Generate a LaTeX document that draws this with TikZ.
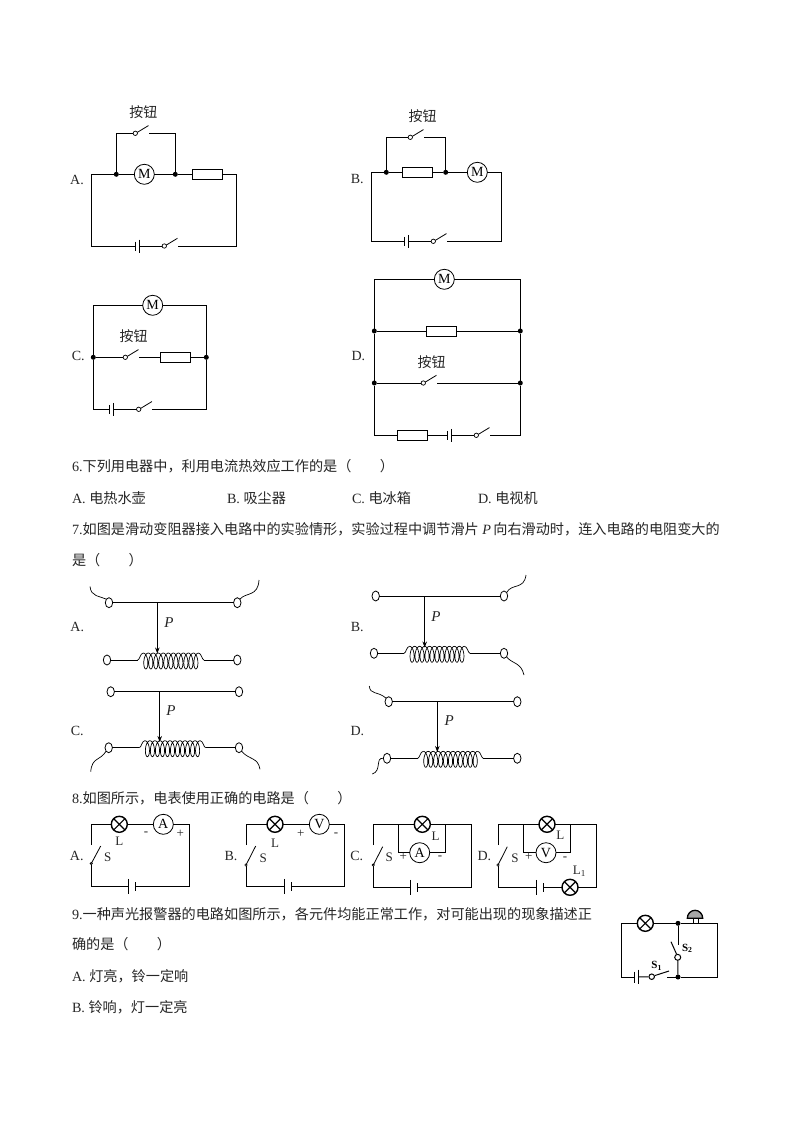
\documentclass[tikz,border=0pt]{standalone}
\usepackage{fontspec}
\setmainfont{Liberation Serif}
\newfontfamily\cjk{Noto Sans CJK SC}
\usetikzlibrary{shapes.geometric,arrows.meta}
\tikzset{
  wire/.style={line width=0.8pt,line join=miter},
  txt/.style={anchor=mid west,yshift=-4pt,inner sep=0pt,outer sep=0pt,font=\fontsize{14.15}{14.15}\selectfont,text=black!85},
  lbl/.style={anchor=center,inner sep=0pt,outer sep=0pt,font=\fontsize{14}{14}\selectfont,text=black!85},
  small/.style={anchor=center,inner sep=0pt,outer sep=0pt,font=\fontsize{13}{13}\selectfont,text=black!85},
  btn/.style={anchor=center,inner sep=0pt,outer sep=0pt,font=\fontsize{14}{14}\selectfont\cjk,text=black!85},
  meter/.style={circle,draw,line width=0.8pt,fill=white,minimum size=20pt,inner sep=0pt,outer sep=0pt,font=\fontsize{14}{14}\selectfont},
  lampnode/.style={circle,draw,line width=1.4pt,fill=white,minimum size=16pt,inner sep=0pt,outer sep=0pt},
  resist/.style={rectangle,draw,line width=0.8pt,fill=white,minimum width=30.4pt,minimum height=10pt,inner sep=0pt,outer sep=0pt},
  jdot/.style={circle,fill=black,minimum size=5pt,inner sep=0pt,outer sep=0pt},
  swc/.style={circle,draw,line width=0.7pt,fill=white,minimum size=4.4pt,inner sep=0pt,outer sep=0pt},
  vc/.style={circle,draw,line width=0.6pt,fill=white,minimum size=2.4pt,inner sep=0pt,outer sep=0pt},
  term/.style={ellipse,draw,line width=0.8pt,fill=white,minimum width=7.4pt,minimum height=10pt,inner sep=0pt,outer sep=0pt},
  lead/.style={line width=0.7pt},
  slide/.style={line width=0.8pt,-{Stealth[length=6pt,width=4.5pt]}}
}
% horizontal switch: name, x, y, resume x
\newcommand\hsw[4]{\node[swc] (#1) at (#2,#3) {};
  \draw[wire] (#1.25) -- ++(11.2,-6.8);
  \coordinate (#1o) at (#4,#3);}
% battery: name, short x, long x, y
\newcommand\batt[4]{\draw[wire] (#2,#4-4.5) -- (#2,#4+4.5);
  \draw[wire] (#3,#4-6.5) -- (#3,#4+6.5);
  \coordinate (#1a) at (#2,#4); \coordinate (#1b) at (#3,#4);}
% battery of problem 8: name, long x, short x, y
\newcommand\battb[4]{\draw[wire] (#2,#4-7.5) -- (#2,#4+7.5);
  \draw[line width=1.4pt] (#3,#4-4.2) -- (#3,#4+4.2);
  \coordinate (#1a) at (#2,#4); \coordinate (#1b) at (#3,#4);}
% lamp: name, x, y
\newcommand\lamp[3]{\node[lampnode] (#1) at (#2,#3) {};
  \draw[line width=1.2pt] (#1.45) -- (#1.225) (#1.135) -- (#1.315);}
% vertical switch of problem 8: name, x, top y, contact y, blade end x, blade end y
\newcommand\vsw[6]{\node[vc] (#1) at (#2,#4) {};
  \draw[wire] (#1.center) -- (#5,#6);
  \coordinate (#1t) at (#2,#3);}
% rheostat bar: name, left x, right x, y
\newcommand\rbar[4]{\node[term] (#1L) at (#2,#4) {}; \node[term] (#1R) at (#3,#4) {};}
% coil: name, left end x, right end x, y
\newcommand\coil[4]{\pgfmathsetmacro\pp{(#3-#2-11.2)/11}
  \draw[line width=0.7pt] (#2,#4) .. controls (#2+2,#4) and (#2+2.6,#4-7) .. (#2+5.6,#4-7);
  \draw[line width=0.7pt] plot[smooth,domain=0:3960,samples=221,variable=\t] ({#2+5.6+\t/360*\pp+3.2*sin(\t)},{#4+1-8*cos(\t)});
  \draw[line width=0.7pt] (#3-5.6,#4-7) .. controls (#3-2.6,#4-7) and (#3-2,#4) .. (#3,#4);
  \coordinate (#1cl) at (#2,#4); \coordinate (#1cr) at (#3,#4);}
\begin{document}
\begin{tikzpicture}[x=1pt,y=-1pt]
\useasboundingbox (0,0) rectangle (794,1123);
\fill[white] (0,0) rectangle (794,1123);

% ---------- Problem 5, A
\coordinate (aTL) at (91.3,174.3); \coordinate (aTR) at (236.7,174.3);
\coordinate (aBR) at (236.7,246); \coordinate (aBL) at (91.3,246);
\coordinate (aU1) at (116.3,133.3); \coordinate (aU2) at (175.3,133.3);
\node[lbl] (aLab) at (77,179.5) {A.};
\node[btn] (aBtn) at (143.3,112) {按钮};
\node[jdot] (aJ1) at (116.3,174.3) {}; \node[jdot] (aJ2) at (175.3,174.3) {};
\node[meter] (aM) at (144.3,174.3) {M};
\node[resist] (aR) at (207.5,174.3) {};
\hsw{aS1}{135.3}{133.3}{149.3}
\hsw{aS2}{164.3}{246}{178.3}
\batt{aB}{135}{139}{246}
\draw[wire] (aJ1) -- (aU1) -- (aS1);
\draw[wire] (aS1o) -- (aU2) -- (aJ2);
\draw[wire] (aJ1) -- (aM); \draw[wire] (aM) -- (aJ2); \draw[wire] (aJ2) -- (aR);
\draw[wire] (aR) -- (aTR) -- (aBR) -- (aS2o);
\draw[wire] (aS2) -- (aBb);
\draw[wire] (aBa) -- (aBL) -- (aTL) -- (aJ1);

% ---------- Problem 5, B
\coordinate (bTL) at (371.3,172.3); \coordinate (bTR) at (501.7,172.3);
\coordinate (bBR) at (501.7,241.3); \coordinate (bBL) at (371.3,241.3);
\coordinate (bU1) at (386.3,137.3); \coordinate (bU2) at (445.7,137.3);
\node[lbl] (bLab) at (357.3,179) {B.};
\node[btn] (bBtn) at (422.7,116) {按钮};
\node[jdot] (bJ1) at (386.3,172.3) {}; \node[jdot] (bJ2) at (445.7,172.3) {};
\node[meter] (bM) at (477.3,172.3) {M};
\node[resist] (bR) at (417.5,172.3) {};
\hsw{bS1}{410.3}{137.3}{424.3}
\hsw{bS2}{433.3}{241.3}{447.3}
\batt{bB}{404}{408.3}{241.3}
\draw[wire] (bJ1) -- (bU1) -- (bS1);
\draw[wire] (bS1o) -- (bU2) -- (bJ2);
\draw[wire] (bJ1) -- (bR); \draw[wire] (bR) -- (bJ2); \draw[wire] (bJ2) -- (bM);
\draw[wire] (bM) -- (bTR) -- (bBR) -- (bS2o);
\draw[wire] (bS2) -- (bBb);
\draw[wire] (bBa) -- (bBL) -- (bTL) -- (bJ1);

% ---------- Problem 5, C
\coordinate (cTL) at (93.3,305.3); \coordinate (cTR) at (206.3,305.3);
\coordinate (cBR) at (206.3,409.3); \coordinate (cBL) at (93.3,409.3);
\node[lbl] (cLab) at (78.3,356) {C.};
\node[btn] (cBtn) at (133.7,336.3) {按钮};
\node[jdot] (cJ1) at (93.3,357.3) {}; \node[jdot] (cJ2) at (206.3,357.3) {};
\node[meter] (cM) at (152.7,305.3) {M};
\node[resist] (cR) at (175.5,357.3) {};
\hsw{cS1}{125.3}{357.3}{139.3}
\hsw{cS2}{138.7}{409.3}{152}
\batt{cB}{109}{113.3}{409.3}
\draw[wire] (cJ1) -- (cTL) -- (cM); \draw[wire] (cM) -- (cTR) -- (cJ2);
\draw[wire] (cJ1) -- (cS1); \draw[wire] (cS1o) -- (cR); \draw[wire] (cR) -- (cJ2);
\draw[wire] (cJ2) -- (cBR) -- (cS2o);
\draw[wire] (cS2) -- (cBb);
\draw[wire] (cBa) -- (cBL) -- (cJ1);

% ---------- Problem 5, D
\coordinate (dTL) at (374.3,279.3); \coordinate (dTR) at (520.3,279.3);
\coordinate (dBR) at (520.3,435.3); \coordinate (dBL) at (374.3,435.3);
\node[lbl] (dLab) at (358.3,356) {D.};
\node[btn] (dBtn) at (431.7,362) {按钮};
\node[jdot] (dJ1) at (374.3,331) {}; \node[jdot] (dJ2) at (520.3,331) {};
\node[jdot] (dJ3) at (374.3,383) {}; \node[jdot] (dJ4) at (520.3,383) {};
\node[meter] (dM) at (444.3,279.3) {M};
\node[resist] (dR1) at (441.5,331) {};
\node[resist] (dR2) at (412.5,435.3) {};
\hsw{dS1}{423.3}{383}{437}
\hsw{dS2}{476.3}{435.3}{490}
\batt{dB}{447.3}{451.7}{435.3}
\draw[wire] (dJ1) -- (dTL) -- (dM); \draw[wire] (dM) -- (dTR) -- (dJ2);
\draw[wire] (dJ1) -- (dR1); \draw[wire] (dR1) -- (dJ2);
\draw[wire] (dJ3) -- (dS1); \draw[wire] (dS1o) -- (dJ4);
\draw[wire] (dJ1) -- (dJ3); \draw[wire] (dJ2) -- (dJ4);
\draw[wire] (dJ4) -- (dBR) -- (dS2o);
\draw[wire] (dS2) -- (dBb);
\draw[wire] (dBa) -- (dR2); \draw[wire] (dR2) -- (dBL) -- (dJ3);

% ---------- Text, 6 and 7
\node[txt] (t6) at (72,465) {6.{\cjk 下列用电器中，利用电流热效应工作的是（　　）}};
\node[txt] (t6a) at (72,497) {A. {\cjk 电热水壶}};
\node[txt] (t6b) at (227,497) {B. {\cjk 吸尘器}};
\node[txt] (t6c) at (352,497) {C. {\cjk 电冰箱}};
\node[txt] (t6d) at (478,497) {D. {\cjk 电视机}};
\node[txt] (t7) at (72,528) {7.{\cjk 如图是滑动变阻器接入电路中的实验情形，实验过程中调节滑片} \textit{P}\,{\cjk 向右滑动时，连入电路的电阻变大的}};
\node[txt] (t7b) at (72,559) {{\cjk 是（　　）}};

% ---------- Rheostat A
\node[lbl] (rALab) at (77.3,626.7) {A.};
\rbar{rA}{109}{237.3}{602.7}
\draw[wire] (rAL) -- (rAR);
\coordinate (rAq) at (157.3,602.7); \coordinate (rAe) at (157.3,653.5);
\draw[slide] (rAq) -- (rAe);
\node[lbl,font=\fontsize{15}{15}\selectfont\itshape] (rAP) at (169,622.3) {P};
\rbar{rAb}{107}{237.3}{660}
\coil{rA}{137.7}{204}{660}
\draw[wire] (rAbL) -- (rAcl); \draw[wire] (rAcr) -- (rAbR);
\draw[lead] (rAL.north west) .. controls (100,596) and (91,597) .. (90,586.5);
\draw[lead] (rAR.north east) .. controls (246,592) and (258,597) .. (259,580);

% ---------- Rheostat B
\node[lbl] (rBLab) at (357.3,626.7) {B.};
\rbar{rB}{375.7}{504}{596}
\draw[wire] (rBL) -- (rBR);
\coordinate (rBq) at (424.7,596); \coordinate (rBe) at (424.7,647.5);
\draw[slide] (rBq) -- (rBe);
\node[lbl,font=\fontsize{15}{15}\selectfont\itshape] (rBP) at (436,616.7) {P};
\rbar{rBb}{374}{504}{653.3}
\coil{rB}{404}{470}{653.3}
\draw[wire] (rBbL) -- (rBcl); \draw[wire] (rBcr) -- (rBbR);
\draw[lead] (rBR.north east) .. controls (512,583) and (524,590) .. (526,575);
\draw[lead] (rBbR.south east) .. controls (512,664) and (521,662) .. (524,675);

% ---------- Rheostat C
\node[lbl] (rCLab) at (77.3,730.7) {C.};
\rbar{rC}{110.7}{239}{691.7}
\draw[wire] (rCL) -- (rCR);
\coordinate (rCq) at (159.7,691.7); \coordinate (rCe) at (159.7,742);
\draw[slide] (rCq) -- (rCe);
\node[lbl,font=\fontsize{15}{15}\selectfont\itshape] (rCP) at (171,711) {P};
\rbar{rCb}{108.7}{239}{747.7}
\coil{rC}{139.3}{205.7}{747.7}
\draw[wire,line width=1.1pt] (rCbL) -- (rCcl); \draw[wire] (rCcr) -- (rCbR);
\draw[lead] (rCbL.south west) .. controls (100,761) and (92,757) .. (90.7,771.7);
\draw[lead] (rCbR.south east) .. controls (249,760) and (258,757) .. (260,769.3);

% ---------- Rheostat D
\node[lbl] (rDLab) at (357.3,730.7) {D.};
\rbar{rD}{388.7}{517.3}{701.7}
\draw[wire] (rDL) -- (rDR);
\coordinate (rDq) at (437.3,701.7); \coordinate (rDe) at (437.3,752);
\draw[slide] (rDq) -- (rDe);
\node[lbl,font=\fontsize{15}{15}\selectfont\itshape] (rDP) at (449.3,721) {P};
\rbar{rDb}{387}{517.3}{758.3}
\coil{rD}{417.7}{483.3}{758.3}
\draw[wire] (rDbL) -- (rDcl); \draw[wire] (rDcr) -- (rDbR);
\draw[lead] (rDL.north west) .. controls (378,691) and (370,695) .. (369.3,686);
\draw[lead] (rDbL.west) .. controls (375,757) and (382,771) .. (372.3,774);

% ---------- Text, 8
\node[txt] (t8) at (72,797) {8.{\cjk 如图所示，电表使用正确的电路是（　　）}};

% ---------- Problem 8, A
\coordinate (eTL) at (91.3,824.3); \coordinate (eTR) at (189.3,824.3);
\coordinate (eBR) at (189.3,886.3); \coordinate (eBL) at (91.3,886.3);
\node[lbl] (eLab) at (76.7,855.7) {A.};
\lamp{eL}{119.3}{824.3}
\node[meter] (eA) at (163.3,824.3) {A};
\vsw{eS}{91.3}{845}{863.5}{100.7}{846}
\battb{eB}{128.3}{135.7}{886.3}
\draw[wire] (eSt) -- (eTL) -- (eL); \draw[wire] (eL) -- (eA); \draw[wire] (eA) -- (eTR) -- (eBR) -- (eBb);
\draw[wire] (eBa) -- (eBL) -- (eS);
\node[small] (eLL) at (119.3,841.7) {L};
\node[small] (eSS) at (107.7,857) {S};
\node[small] (eM) at (146,834) {-};
\node[small] (eP) at (180.3,834) {+};

% ---------- Problem 8, B
\coordinate (fTL) at (246,824.3); \coordinate (fTR) at (344.3,824.3);
\coordinate (fBR) at (344.3,886.3); \coordinate (fBL) at (246,886.3);
\node[lbl] (fLab) at (231,855.7) {B.};
\lamp{fL}{275}{824.3}
\node[meter] (fV) at (319.3,824.3) {V};
\vsw{fS}{246}{845}{865}{255.7}{846}
\battb{fB}{284}{291.7}{886.3}
\draw[wire] (fSt) -- (fTL) -- (fL); \draw[wire] (fL) -- (fV); \draw[wire] (fV) -- (fTR) -- (fBR) -- (fBb);
\draw[wire] (fBa) -- (fBL) -- (fS);
\node[small] (fLL) at (275,843.3) {L};
\node[small] (fSS) at (263.3,858.3) {S};
\node[small] (fP) at (300.7,834) {+};
\node[small] (fM) at (336,835) {-};

% ---------- Problem 8, C
\coordinate (gTL) at (373.3,824.3); \coordinate (gTR) at (471.3,824.3);
\coordinate (gBR) at (471.3,887.3); \coordinate (gBL) at (373.3,887.3);
\coordinate (gI1) at (398.7,824.3); \coordinate (gI2) at (445.7,824.3);
\coordinate (gI3) at (398.7,852.7); \coordinate (gI4) at (445.7,852.7);
\node[lbl] (gLab) at (356.7,855.7) {C.};
\lamp{gL}{422.3}{824.3}
\node[meter] (gA) at (419.7,852.7) {A};
\vsw{gS}{373.3}{845}{865}{382.7}{846.7}
\battb{gB}{410.3}{417.7}{887.3}
\draw[wire] (gSt) -- (gTL) -- (gL); \draw[wire] (gL) -- (gTR) -- (gBR) -- (gBb);
\draw[wire] (gBa) -- (gBL) -- (gS);
\draw[wire] (gI1) -- (gI3) -- (gA); \draw[wire] (gA) -- (gI4) -- (gI2);
\node[small] (gLL) at (435.7,836) {L};
\node[small] (gSS) at (389.3,857.3) {S};
\node[small] (gP) at (403.3,856.7) {+};
\node[small] (gM) at (440,858) {-};

% ---------- Problem 8, D
\coordinate (hTL) at (498,824.3); \coordinate (hTR) at (596,824.3);
\coordinate (hBR) at (596,887.3); \coordinate (hBL) at (498,887.3);
\coordinate (hI1) at (523.3,824.3); \coordinate (hI2) at (570.7,824.3);
\coordinate (hI3) at (523.3,852.7); \coordinate (hI4) at (570.7,852.7);
\node[lbl] (hLab) at (484.3,855.7) {D.};
\lamp{hL}{547}{824.3}
\lamp{hL1}{570}{887.3}
\node[meter] (hV) at (546,852.7) {V};
\vsw{hS}{498}{845}{865}{507.3}{846.7}
\battb{hB}{536.7}{543.7}{887.3}
\draw[wire] (hSt) -- (hTL) -- (hL); \draw[wire] (hL) -- (hTR) -- (hBR) -- (hL1); \draw[wire] (hL1) -- (hBb);
\draw[wire] (hBa) -- (hBL) -- (hS);
\draw[wire] (hI1) -- (hI3) -- (hV); \draw[wire] (hV) -- (hI4) -- (hI2);
\node[small] (hLL) at (560.3,835) {L};
\node[small] (hSS) at (515,858.3) {S};
\node[small] (hP) at (528.7,856.7) {+};
\node[small] (hM) at (565,858.3) {-};
\node[small] (hLL1) at (579.3,871) {L\textsubscript{1}};

% ---------- Text, 9
\node[txt] (t9) at (72,913) {9.{\cjk 一种声光报警器的电路如图所示，各元件均能正常工作，对可能出现的现象描述正}};
\node[txt] (t9b) at (72,943) {{\cjk 确的是（　　）}};
\node[txt] (t9c) at (72,975) {A. {\cjk 灯亮，铃一定响}};
\node[txt] (t9d) at (72,1006) {B. {\cjk 铃响，灯一定亮}};

% ---------- Problem 9 circuit
\coordinate (iTL) at (621,923.3); \coordinate (iTR) at (717.7,923.3);
\coordinate (iBR) at (717.7,977); \coordinate (iBL) at (621,977);
\lamp{iL}{645.3}{923.3}
\node[jdot] (iJ1) at (678,923.3) {}; \node[jdot] (iJ2) at (678,977) {};
\node[circle,draw,line width=1pt,fill=white,minimum size=6pt,inner sep=0pt] (iS2) at (677.7,957.3) {};
\draw[line width=1pt] (iS2.110) -- (671,941.7);
\coordinate (iS2t) at (678,945);
\node[circle,draw,line width=1pt,fill=white,minimum size=5.5pt,inner sep=0pt] (iS1) at (651.7,976.7) {};
\draw[line width=1pt] (iS1.20) -- (669,971);
\coordinate (iS1o) at (667.3,977);
\draw[line width=1pt] (634,971.7) -- (634,982.5);
\draw[line width=1pt] (638,969.5) -- (638,984);
\coordinate (iBa) at (634,977); \coordinate (iBb) at (638,977);
\draw[wire,line width=1pt] (iBa) -- (iBL) -- (iTL) -- (iL);
\draw[wire,line width=1pt] (iL) -- (iJ1); \draw[wire,line width=1pt] (iJ1) -- (iTR) -- (iBR) -- (iJ2);
\draw[wire,line width=1pt] (iJ2) -- (iS1o);
\draw[wire,line width=1pt] (iS1) -- (iBb);
\draw[wire,line width=1pt] (iJ1) -- (iS2t);
\draw[wire,line width=1pt] (iS2) -- (iJ2);
\draw[line width=1.3pt,fill=black!35] (687.3,918.3) arc[start angle=180,end angle=360,x radius=7.7,y radius=8] -- cycle;
\draw[line width=1pt] (693.3,918.3) -- (693.3,923.3) (698.3,918.3) -- (698.3,923.3);
\node[font=\fontsize{11}{11}\selectfont\bfseries,inner sep=0pt] (iLS2) at (687.3,948.3) {S\textsubscript{2}};
\node[font=\fontsize{11}{11}\selectfont\bfseries,inner sep=0pt] (iLS1) at (656.7,965.7) {S\textsubscript{1}};
\end{tikzpicture}
\end{document}
